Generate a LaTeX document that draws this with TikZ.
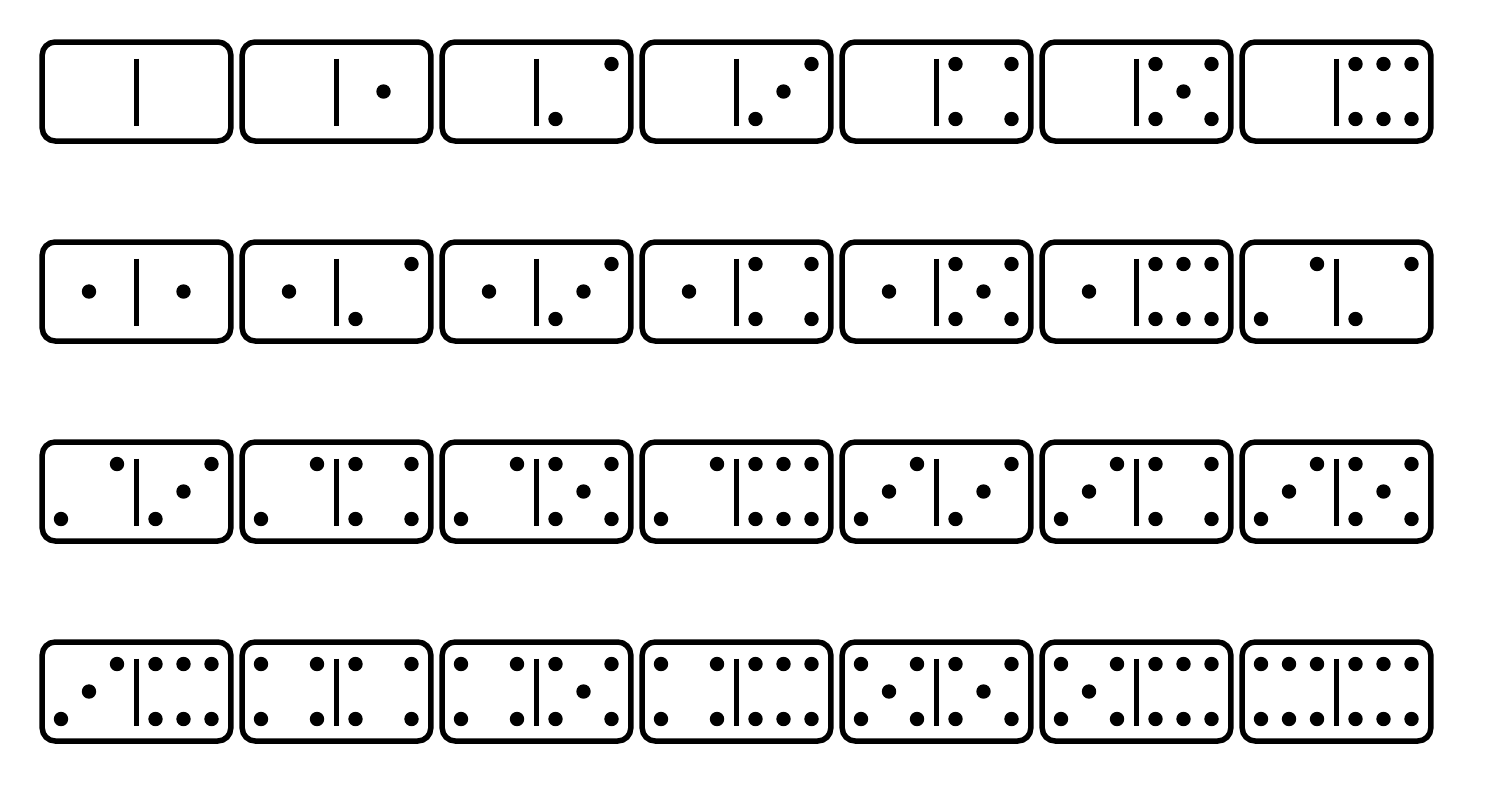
\documentclass[tikz,border=0pt]{standalone}
\begin{document}
\newcommand\dompip[2]{\fill[pipstyle] (\cx+#1*28,\cy+#2*27.5) circle[radius=3.6pt];}
\newcommand\domhalf[1]{\ifcase#1\relax
  \or \dompip{0}{0}%
  \or \dompip{1}{-1}\dompip{-1}{1}%
  \or \dompip{1}{-1}\dompip{0}{0}\dompip{-1}{1}%
  \or \dompip{-1}{-1}\dompip{1}{-1}\dompip{-1}{1}\dompip{1}{1}%
  \or \dompip{-1}{-1}\dompip{1}{-1}\dompip{0}{0}\dompip{-1}{1}\dompip{1}{1}%
  \or \dompip{-1}{-1}\dompip{0}{-1}\dompip{1}{-1}\dompip{-1}{1}\dompip{0}{1}\dompip{1}{1}%
  \fi}
\begin{tikzpicture}[x=0.5pt,y=-0.5pt,
  dombox/.style={draw=black,line width=2.75pt,rounded corners=6.5pt,fill=white},
  domdivider/.style={draw=black,line width=2.3pt},
  pipstyle/.style={fill=black}]
\useasboundingbox (0,0) rectangle (1500,800);
\foreach \a/\b [count=\k from 0] in {0/0,0/1,0/2,0/3,0/4,0/5,0/6,
  1/1,1/2,1/3,1/4,1/5,1/6,2/2,
  2/3,2/4,2/5,2/6,3/3,3/4,3/5,
  3/6,4/4,4/5,4/6,5/5,5/6,6/6}{
  \pgfmathtruncatemacro\ci{mod(\k,7)}
  \pgfmathtruncatemacro\cj{div(\k,7)}
  \pgfmathsetmacro\mx{136.5+200*\ci}
  \pgfmathsetmacro\my{91.5+200*\cj}
  \node[dombox,minimum width=94.3pt,minimum height=49.5pt,inner sep=0pt] (d\k) at (\mx,\my) {};
  \draw[domdivider] (\mx,\my-33) -- (\mx,\my+34);
  \pgfmathsetmacro\cx{\mx-47.5}
  \let\cy\my
  \domhalf{\a}
  \pgfmathsetmacro\cx{\mx+47}
  \domhalf{\b}
}
\end{tikzpicture}
\end{document}
